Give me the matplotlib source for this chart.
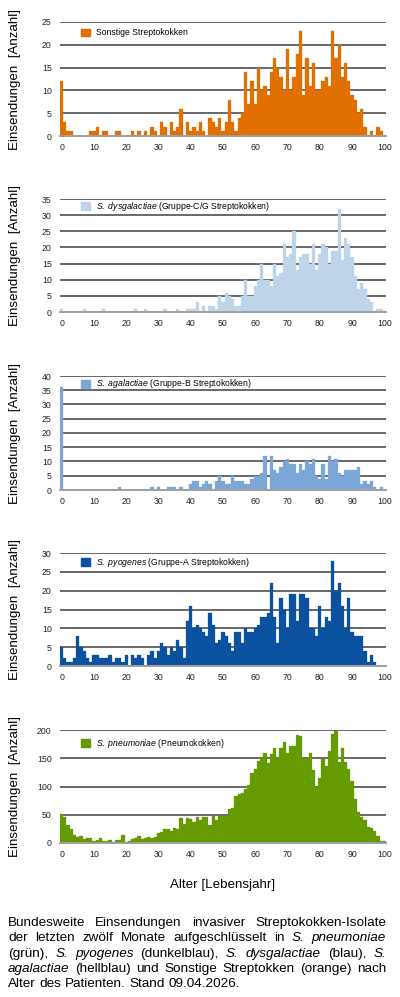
import numpy as np
import matplotlib
matplotlib.use("Agg")
import matplotlib.pyplot as plt
from matplotlib.patches import Patch

plt.rcParams['font.family'] = ['Liberation Sans', 'DejaVu Sans']
plt.rcParams['mathtext.fontset'] = 'custom'
plt.rcParams['mathtext.rm'] = 'Liberation Sans'
plt.rcParams['mathtext.it'] = 'Liberation Sans:italic'
plt.rcParams['mathtext.bf'] = 'Liberation Sans:bold'

ages = np.arange(0, 101)

# Einsendungen pro Lebensjahr (0..100)
sonstige = [12, 3, 1, 1, 0, 0, 0, 0, 0, 1,
            1, 2, 0, 1, 1, 0, 0, 1, 1, 0,
            0, 0, 1, 0, 1, 0, 1, 0, 2, 1,
            0, 3, 2, 0, 3, 1, 2, 6, 0, 3,
            1, 2, 1, 3, 1, 0, 4, 3, 2, 4,
            1, 3, 8, 3, 1, 4, 5, 14, 7, 12,
            7, 15, 10, 11, 9, 14, 17, 15, 13, 10,
            19, 10, 13, 18, 23, 9, 17, 11, 16, 10,
            10, 12, 13, 11, 23, 17, 20, 13, 16, 12,
            9, 8, 5, 6, 2, 0, 1, 0, 2, 1, 0]

dysgalactiae = [1, 0, 0, 0, 0, 0, 0, 1, 0, 0,
                0, 0, 0, 1, 0, 0, 0, 0, 0, 0,
                0, 0, 0, 1, 0, 0, 1, 0, 0, 0,
                0, 0, 1, 0, 0, 0, 1, 0, 0, 1,
                1, 1, 3, 0, 2, 0, 2, 2, 1, 5,
                3, 6, 5, 4, 2, 2, 5, 10, 5, 5,
                8, 10, 15, 10, 10, 8, 15, 11, 12, 21,
                17, 18, 25, 13, 17, 18, 18, 15, 21, 13,
                18, 21, 20, 15, 19, 19, 32, 16, 23, 21,
                17, 11, 7, 9, 7, 4, 3, 0, 1, 1, 0]

agalactiae = [36, 0, 0, 0, 0, 0, 0, 0, 0, 0,
              0, 0, 0, 0, 0, 0, 0, 0, 1, 0,
              0, 0, 0, 0, 0, 0, 0, 0, 1, 0,
              1, 0, 0, 1, 1, 1, 0, 1, 0, 0,
              2, 3, 3, 1, 2, 3, 2, 0, 3, 5,
              3, 2, 2, 5, 3, 3, 3, 2, 2, 4,
              5, 5, 6, 12, 0, 12, 7, 6, 8, 10,
              11, 9, 9, 6, 9, 7, 10, 9, 11, 5,
              4, 9, 4, 12, 10, 11, 6, 5, 7, 7,
              7, 7, 8, 2, 3, 2, 3, 1, 0, 1, 0]

pyogenes = [5, 2, 1, 1, 2, 8, 5, 4, 2, 1,
            3, 3, 2, 2, 2, 3, 1, 2, 2, 1,
            3, 0, 3, 2, 3, 2, 0, 3, 4, 2,
            4, 6, 5, 3, 5, 4, 7, 5, 2, 12,
            16, 10, 11, 10, 9, 8, 14, 11, 6, 7,
            9, 8, 6, 4, 9, 9, 6, 10, 9, 9,
            10, 11, 13, 13, 14, 22, 13, 6, 18, 15,
            10, 19, 19, 12, 19, 19, 18, 10, 10, 8,
            16, 10, 13, 12, 28, 20, 22, 16, 10, 18,
            9, 8, 8, 8, 4, 1, 3, 1, 0, 0, 0]

pneumoniae = [52, 46, 32, 24, 15, 10, 13, 7, 9, 8,
              3, 6, 9, 4, 3, 5, 2, 5, 5, 14,
              2, 4, 7, 8, 13, 7, 9, 11, 9, 11,
              17, 19, 24, 24, 22, 27, 24, 45, 33, 45,
              42, 38, 46, 41, 46, 46, 31, 47, 40, 47,
              47, 48, 60, 62, 84, 87, 88, 95, 103, 124,
              131, 146, 152, 159, 141, 158, 169, 153, 169, 178,
              160, 172, 171, 192, 189, 150, 150, 159, 130, 100,
              115, 149, 137, 163, 193, 198, 144, 169, 144, 131,
              110, 77, 54, 46, 41, 29, 26, 22, 13, 4, 4]

W, H = 400, 997
fig = plt.figure(figsize=(W / 100, H / 100), dpi=100)

# values, colour, legend label, ymax, step, top px, bottom px, legend y
panels = [
    (sonstige, "#E17000", "Sonstige Streptokokken", 25, 5, 22, 136, 0.904),
    (dysgalactiae, "#BDD4E9", r"$\mathit{S.\ dysgalactiae}$ (Gruppe-C/G Streptokokken)", 35, 5, 199, 312, 0.934),
    (agalactiae, "#7BA6D6", r"$\mathit{S.\ agalactiae}$ (Gruppe-B Streptokokken)", 40, 5, 376, 490, 0.93),
    (pyogenes, "#0A529F", r"$\mathit{S.\ pyogenes}$ (Gruppe-A Streptokokken)", 30, 5, 553, 666, 0.914),
    (pneumoniae, "#659A00", r"$\mathit{S.\ pneumoniae}$ (Pneumokokken)", 200, 50, 730, 843, 0.879),
]

for vals, col, lab, ymax, step, top, bot, ly in panels:
    ax = fig.add_axes([60 / W, 1 - bot / H, 326 / W, (bot - top) / H])
    ax.bar(ages, vals, width=1.0, color=col, edgecolor=col, linewidth=0.2, zorder=2)
    ax.set_xlim(-0.5, 100.5)
    ax.set_ylim(0, ymax)
    ax.set_xticks(range(0, 101, 10))
    ax.set_yticks(range(0, ymax + 1, step))
    ax.yaxis.grid(True, color="#404040", linewidth=1.1)
    ax.set_axisbelow(True)
    for s in ["left", "right", "top"]:
        ax.spines[s].set_visible(False)
    ax.spines["bottom"].set_color("#a0a0a0")
    ax.spines["bottom"].set_linewidth(1.4)
    ax.spines["bottom"].set_zorder(3)
    ax.tick_params(length=0, labelsize=6.3, colors="#222222")
    ax.tick_params(axis="y", pad=6)
    ax.tick_params(axis="x", pad=5)
    ax.legend(handles=[Patch(facecolor=col, edgecolor=col)], labels=[lab],
              loc="center left", bbox_to_anchor=(0.064, ly), frameon=False,
              fontsize=6.2, handlelength=1.05, handleheight=1.05,
              handletextpad=0.7, borderpad=0, borderaxespad=0)
    fig.text(15 / W, 1 - (top + bot) / 2 / H, "Einsendungen  [Anzahl]",
             rotation=90, ha="center", va="center", fontsize=9.6)

fig.text(223 / W, 1 - 885 / H, "Alter [Lebensjahr]", ha="center", va="center",
         fontsize=9.6)

# Blocksatz-Bildunterschrift
caption = [
    [("Bundesweite", 0), ("Einsendungen", 0), ("invasiver", 0), ("Streptokokken-Isolate", 0)],
    [("der", 0), ("letzten", 0), ("zwölf", 0), ("Monate", 0), ("aufgeschlüsselt", 0), ("in", 0),
     ("S.", 1), ("pneumoniae", 1)],
    [("(grün),", 0), ("S.", 1), ("pyogenes", 1), ("(dunkelblau),", 0), ("S.", 1),
     ("dysgalactiae", 1), ("(blau),", 0), ("S.", 1)],
    [("agalactiae", 1), ("(hellblau)", 0), ("und", 0), ("Sonstige", 0), ("Streptokken", 0),
     ("(orange)", 0), ("nach", 0)],
    [("Alter", 0), ("des", 0), ("Patienten.", 0), ("Stand", 0), ("09.04.2026.", 0)],
]
cap_size = 9.7
r = fig.canvas.get_renderer()
x0, x1 = 8, 386
base_y = 926
for i, line in enumerate(caption):
    y = 1 - (base_y + i * 15.3) / H
    texts, widths = [], []
    for word, it in line:
        t = fig.text(0, y, word, fontsize=cap_size, va="baseline", ha="left",
                     fontstyle="italic" if it else "normal")
        texts.append(t)
        widths.append(t.get_window_extent(renderer=r).width)
    if i < len(caption) - 1:
        gap = (x1 - x0 - sum(widths)) / (len(line) - 1)
    else:
        sp = fig.text(0, 0, "a a", fontsize=cap_size)
        sp2 = fig.text(0, 0, "aa", fontsize=cap_size)
        gap = sp.get_window_extent(renderer=r).width - sp2.get_window_extent(renderer=r).width
        sp.remove()
        sp2.remove()
    x = x0
    for t, w in zip(texts, widths):
        t.set_x(x / W)
        x += w + gap

fig.savefig("out.png", dpi=100, facecolor="white")
